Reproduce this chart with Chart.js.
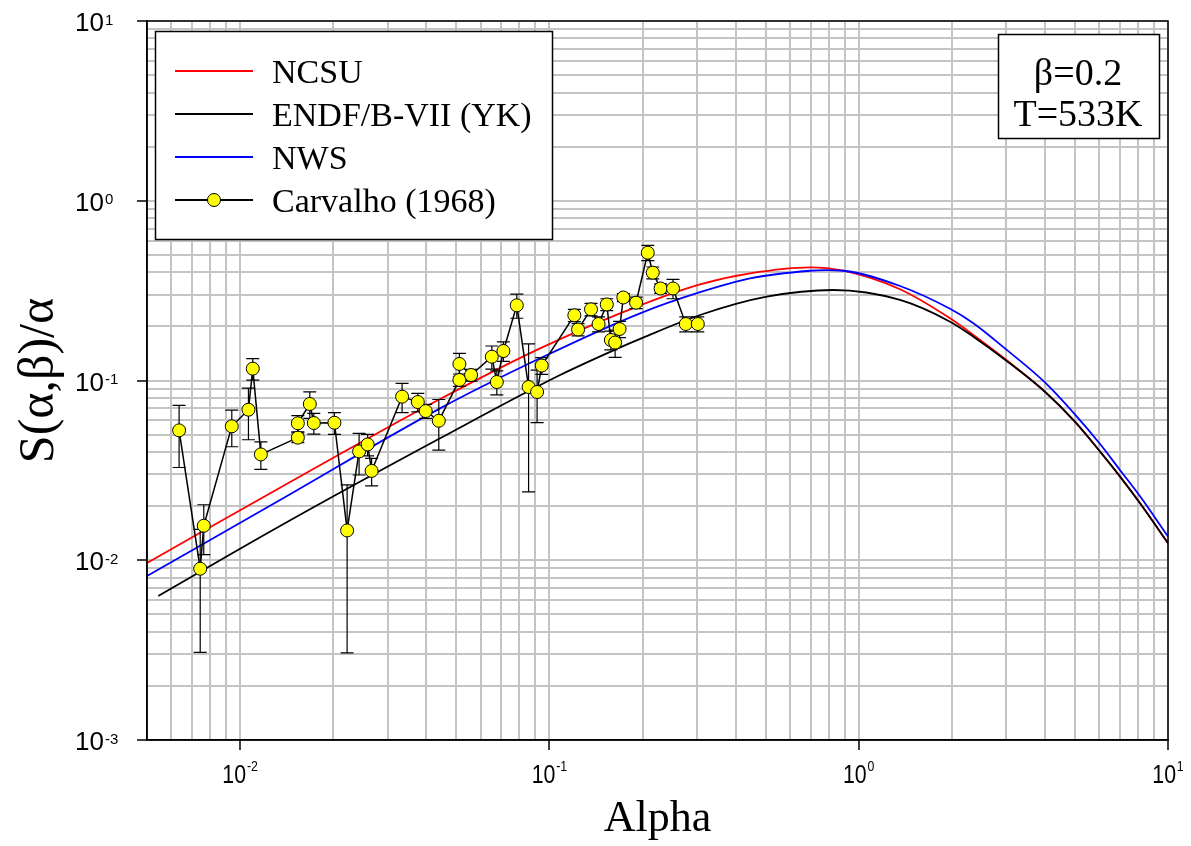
<!DOCTYPE html>
<html>
<head>
<meta charset="utf-8">
<script src="https://cdn.jsdelivr.net/npm/chart.js@4.4.1/dist/chart.umd.min.js"></script>
<style>
  html, body { margin: 0; padding: 0; background: #fff; }
</style>
</head>
<body>
<canvas id="myChart" width="1191" height="846"></canvas>
<script>
// Carvalho (1968) measured points
const carvAlpha = [0.00635, 0.00743, 0.00763, 0.0094, 0.01064, 0.01099, 0.01167, 0.01537, 0.01537, 0.0168,
  0.01731, 0.02018, 0.02218, 0.02425, 0.02584, 0.02662, 0.0334, 0.03754, 0.03982, 0.04389,
  0.05117, 0.05117, 0.05581, 0.06514, 0.0676, 0.071, 0.07844, 0.08564, 0.09124, 0.09447,
  0.1204, 0.1238, 0.1363, 0.1442, 0.1533, 0.158, 0.1631, 0.1686, 0.1734, 0.1906,
  0.208, 0.2159, 0.2288, 0.251, 0.276, 0.3018];
const carvS = [0.0528, 0.00897, 0.01556, 0.0556, 0.0688, 0.1164, 0.0388, 0.0481, 0.0578, 0.074,
  0.058, 0.0582, 0.01465, 0.0403, 0.0441, 0.0314, 0.0813, 0.0759, 0.0676, 0.0597,
  0.1007, 0.1236, 0.1073, 0.1356, 0.0981, 0.1459, 0.262, 0.092, 0.0863, 0.1211,
  0.2306, 0.1922, 0.2489, 0.2062, 0.2649, 0.168, 0.1626, 0.1933, 0.2896, 0.271,
  0.514, 0.398, 0.325, 0.325, 0.2062, 0.2062];
const carvErr = [0.02, 0.0059, 0.0048, 0.0128, 0.022, 0.016, 0.0068, 0.003, 0.006, 0.0125,
  0.0077, 0.008, 0.0116, 0.0105, 0.006, 0.0055, 0.015, 0.009, 0.006, 0.0187,
  0.008, 0.018, 0.008, 0.02, 0.015, 0.018, 0.04, 0.068, 0.028, 0.013,
  0.018, 0.015, 0.02, 0.02, 0.02, 0.02, 0.028, 0.02, 0.015, 0.02,
  0.05, 0.03, 0.02, 0.04, 0.02, 0.02];

// calculated curves
const ncsuAlpha = [0.005, 0.01346, 0.04432, 0.0933, 0.1964, 0.307, 0.4453, 0.6963, 0.892, 1.36, 1.974, 2.348, 3.01, 4.0, 5.0, 6.03, 7.0, 8.12, 10];
const ncsuS = [0.00966, 0.02533, 0.0789, 0.151, 0.262, 0.343, 0.3948, 0.4264, 0.4083, 0.3217, 0.2218, 0.179, 0.1295, 0.0868, 0.0591, 0.0403, 0.0292, 0.0208, 0.01245];

const endfAlpha = [0.00544, 0.01346, 0.04432, 0.1083, 0.1631, 0.2, 0.307, 0.5043, 0.828, 1.36, 1.974, 2.348, 3.01, 4.0, 5.0, 6.03, 7.0, 8.12, 10];
const endfS = [0.00633, 0.01551, 0.0477, 0.1073, 0.1485, 0.1727, 0.2314, 0.2925, 0.3188, 0.2805, 0.2123, 0.1753, 0.1285, 0.0866, 0.059, 0.0402, 0.0292, 0.02074, 0.01243];

const nwsAlpha = [0.005, 0.01346, 0.04432, 0.0933, 0.1964, 0.307, 0.4453, 0.6963, 0.778, 0.892, 1.36, 1.974, 2.348, 3.01, 4.0, 5.0, 6.03, 7.0, 8.12, 10];
const nwsS = [0.00817, 0.02163, 0.07, 0.1329, 0.2365, 0.31, 0.37, 0.408, 0.411, 0.408, 0.3355, 0.2505, 0.2084, 0.148, 0.0976, 0.0648, 0.0443, 0.0317, 0.0227, 0.01355];

const xTickPowers = [-2, -1, 0, 1];
const yTickPowers = [-3, -2, -1, 0, 1];
const legendLabels = ["NCSU", "ENDF/B-VII (YK)", "NWS", "Carvalho (1968)"];
const noteLines = ["β=0.2", "T=533K"];

function toPoints(xs, ys) {
  return xs.map((x, i) => ({ x: x, y: ys[i] }));
}

// 1..9 x 10^n ticks for the log axes
function logTicks(scale) {
  let ticks = [];
  let lo = Math.floor(Math.log10(scale.min));
  let hi = Math.ceil(Math.log10(scale.max));
  for (let e = lo; e <= hi; e++) {
    for (let m = 1; m < 10; m++) {
      let v = m * Math.pow(10, e);
      if (v >= scale.min * 0.999 && v <= scale.max * 1.001) ticks.push({ value: v, major: m === 1 });
    }
  }
  scale.ticks = ticks;
}

// "10" with a raised exponent; sx squeezes the text sideways
function drawPow(ctx, exp, x, y, center, baseFont, supFont, supDy, sx) {
  let base = "10";
  let sup = exp < 0 ? "-" + Math.abs(exp) : String(exp);
  ctx.font = baseFont;
  let wb = ctx.measureText(base).width;
  ctx.font = supFont;
  let ws = ctx.measureText(sup).width;
  let total = wb + ws + 1;
  ctx.save();
  ctx.translate(center ? x - total * sx / 2 : x, y);
  ctx.scale(sx, 1);
  ctx.font = baseFont;
  ctx.fillText(base, 0, 0);
  ctx.font = supFont;
  ctx.fillText(sup, wb + 1, supDy);
  ctx.restore();
}

const errorBars = {
  id: "errorBars",
  beforeDatasetDraw(chart, args) {
    if (args.index !== 0) return;
    const ctx = chart.ctx;
    const xs = chart.scales.x, ys = chart.scales.y;
    const area = chart.chartArea;
    ctx.save();
    ctx.beginPath();
    ctx.rect(area.left, area.top, area.right - area.left, area.bottom - area.top);
    ctx.clip();
    ctx.strokeStyle = "#000";
    ctx.lineWidth = 1.2;
    for (let i = 0; i < carvAlpha.length; i++) {
      let px = xs.getPixelForValue(carvAlpha[i]);
      let hi = carvS[i] + carvErr[i];
      let lo = Math.max(carvS[i] - carvErr[i], 0.0011);
      let pTop = ys.getPixelForValue(hi);
      let pBot = ys.getPixelForValue(lo);
      ctx.beginPath();
      ctx.moveTo(px, pTop); ctx.lineTo(px, pBot);
      ctx.moveTo(px - 6.5, pTop); ctx.lineTo(px + 6.5, pTop);
      ctx.moveTo(px - 6.5, pBot); ctx.lineTo(px + 6.5, pBot);
      ctx.stroke();
    }
    ctx.restore();
  }
};

const decorations = {
  id: "decorations",
  afterDraw(chart) {
    const ctx = chart.ctx;
    const xs = chart.scales.x, ys = chart.scales.y;
    const area = chart.chartArea;
    ctx.save();

    // frame
    ctx.strokeStyle = "#000";
    ctx.lineWidth = 1.5;
    ctx.strokeRect(area.left, area.top, area.right - area.left, area.bottom - area.top);

    // tick labels
    ctx.fillStyle = "#000";
    ctx.textAlign = "left";
    ctx.textBaseline = "alphabetic";
    yTickPowers.forEach(p => {
      let py = ys.getPixelForValue(Math.pow(10, p));
      drawPow(ctx, p, 75, py + 10, false, "26px 'Liberation Sans', Arial, sans-serif", "15px 'Liberation Sans', Arial, sans-serif", -6.5, 1);
    });
    xTickPowers.forEach(p => {
      let px = xs.getPixelForValue(Math.pow(10, p));
      drawPow(ctx, p, px, 783, true, "26px 'Liberation Sans', Arial, sans-serif", "15px 'Liberation Sans', Arial, sans-serif", -12, 0.82);
    });

    // axis titles
    ctx.font = "44px 'Liberation Serif', 'Times New Roman', serif";
    ctx.textAlign = "center";
    ctx.fillText("Alpha", (area.left + area.right) / 2, 831);
    ctx.save();
    ctx.translate(40, (area.top + area.bottom) / 2);
    ctx.rotate(-Math.PI / 2);
    ctx.font = "50px 'Liberation Serif', 'Times New Roman', serif";
    ctx.textBaseline = "middle";
    ctx.fillText("S(α,β)/α", 0, 0);
    ctx.restore();

    // legend
    ctx.fillStyle = "#fff";
    ctx.fillRect(155, 31, 397, 208);
    ctx.strokeStyle = "#000";
    ctx.lineWidth = 1.5;
    ctx.strokeRect(155.5, 31.5, 397, 208);
    const order = [1, 2, 3, 0];
    order.forEach((di, k) => {
      const ds = chart.data.datasets[di];
      let ly = 71 + k * 43;
      ctx.strokeStyle = ds.borderColor;
      ctx.lineWidth = 1.8;
      ctx.beginPath();
      ctx.moveTo(175, ly); ctx.lineTo(253, ly);
      ctx.stroke();
      if (di === 0) {
        ctx.beginPath();
        ctx.arc(214, ly, 6.5, 0, Math.PI * 2);
        ctx.fillStyle = ds.pointBackgroundColor;
        ctx.fill();
        ctx.lineWidth = 1;
        ctx.strokeStyle = "#000";
        ctx.stroke();
      }
      ctx.fillStyle = "#000";
      ctx.font = "34px 'Liberation Serif', 'Times New Roman', serif";
      ctx.textAlign = "left";
      ctx.textBaseline = "alphabetic";
      ctx.fillText(legendLabels[k], 272, ly + 11.5);
    });

    // beta / T note
    ctx.fillStyle = "#fff";
    ctx.fillRect(998, 34, 161, 104);
    ctx.strokeStyle = "#000";
    ctx.lineWidth = 1.5;
    ctx.strokeRect(998.5, 34.5, 161, 104);
    ctx.fillStyle = "#000";
    ctx.font = "38px 'Liberation Serif', 'Times New Roman', serif";
    ctx.textAlign = "center";
    ctx.fillText(noteLines[0], 1078, 85);
    ctx.fillText(noteLines[1], 1078, 126);

    ctx.restore();
  }
};

const gridOpts = {
  color: "#c4c4c4",
  lineWidth: 2,
  drawTicks: true,
  tickLength: 10,
  tickWidth: 1.5,
  tickColor: c => (c.tick && c.tick.major) ? "#000" : "rgba(0,0,0,0)"
};

let chart1 = document.getElementById("myChart").getContext("2d");

const myChart1 = new Chart(chart1, {
  type: "line",
  data: {
    datasets: [
      {
        label: legendLabels[3],
        data: toPoints(carvAlpha, carvS),
        borderColor: "#000",
        borderWidth: 1.5,
        pointRadius: 6.5,
        pointBackgroundColor: "#ffff00",
        pointBorderColor: "#000",
        pointBorderWidth: 1,
        tension: 0,
        order: 0,
      },
      {
        label: legendLabels[0],
        data: toPoints(ncsuAlpha, ncsuS),
        borderColor: "#ff0000",
        borderWidth: 1.8,
        pointRadius: 0,
        cubicInterpolationMode: "monotone",
        order: 3,
      },
      {
        label: legendLabels[1],
        data: toPoints(endfAlpha, endfS),
        borderColor: "#000000",
        borderWidth: 1.8,
        pointRadius: 0,
        cubicInterpolationMode: "monotone",
        order: 1,
      },
      {
        label: legendLabels[2],
        data: toPoints(nwsAlpha, nwsS),
        borderColor: "#0000ff",
        borderWidth: 1.8,
        pointRadius: 0,
        cubicInterpolationMode: "monotone",
        order: 2,
      },
    ],
  },
  options: {
    responsive: false,
    maintainAspectRatio: false,
    animation: false,
    devicePixelRatio: 1,
    layout: { padding: { top: 21, right: 23, left: 0, bottom: 0 } },
    plugins: {
      legend: { display: false },
      tooltip: { enabled: false },
    },
    scales: {
      x: {
        type: "logarithmic",
        min: 0.005,
        max: 10,
        afterBuildTicks: logTicks,
        afterFit: s => { s.height = 106; },
        ticks: { display: false, autoSkip: false },
        grid: gridOpts,
        border: { display: true, color: "#000", width: 1.5 },
      },
      y: {
        type: "logarithmic",
        min: 0.001,
        max: 10,
        afterBuildTicks: logTicks,
        afterFit: s => { s.width = 147; },
        ticks: { display: false, autoSkip: false },
        grid: gridOpts,
        border: { display: true, color: "#000", width: 1.5 },
      },
    },
  },
  plugins: [errorBars, decorations],
});
</script>
</body>
</html>
